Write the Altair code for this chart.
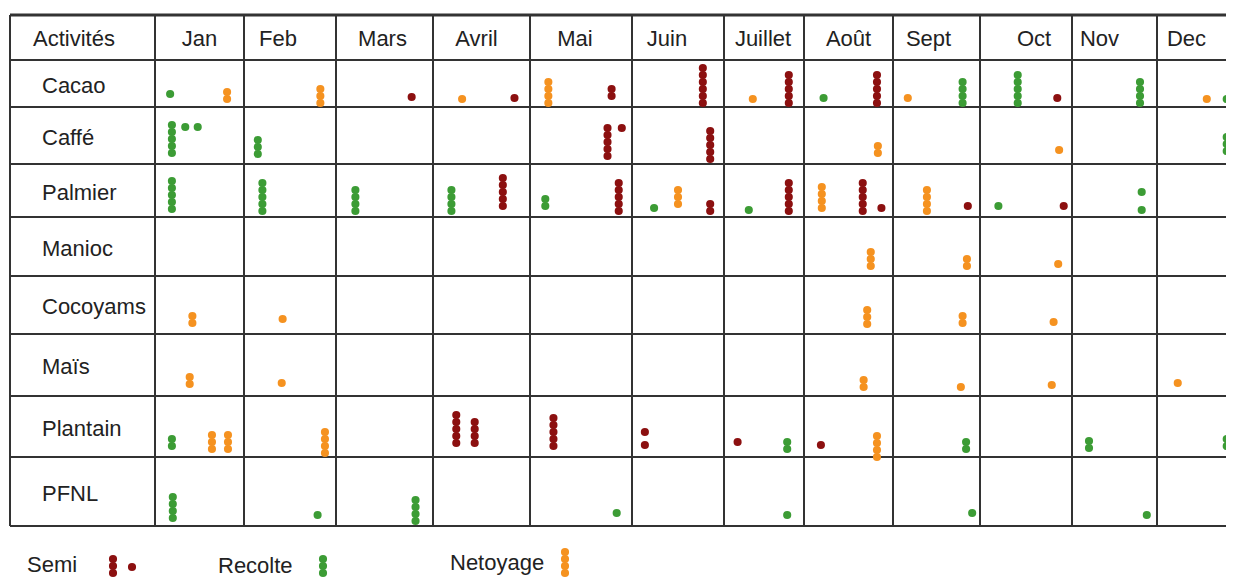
import altair as alt
import pandas as pd

# ---------------- data ----------------
header = "Activités"
months = ["Jan", "Feb", "Mars", "Avril", "Mai", "Juin", "Juillet", "Août",
          "Sept", "Oct", "Nov", "Dec"]
activities = ["Cacao", "Caffé", "Palmier", "Manioc", "Cocoyams", "Maïs",
              "Plantain", "PFNL"]
types = ["Semi", "Recolte", "Netoyage"]

# each stack: (month, position inside the month cell 0-1, number of dots, activity type,
#              lift of the lowest dot above the cell floor)
cacao = [("Jan", 0.17, 1, "Recolte", 13), ("Jan", 0.81, 2, "Netoyage", 8),
         ("Feb", 0.83, 3, "Netoyage", 4), ("Mars", 0.78, 1, "Semi", 10),
         ("Avril", 0.30, 1, "Netoyage", 8), ("Avril", 0.84, 1, "Semi", 9),
         ("Mai", 0.18, 4, "Netoyage", 4), ("Mai", 0.80, 2, "Semi", 11),
         ("Juin", 0.77, 6, "Semi", 4), ("Juillet", 0.36, 1, "Netoyage", 8),
         ("Juillet", 0.81, 5, "Semi", 4), ("Août", 0.22, 1, "Recolte", 9),
         ("Août", 0.82, 5, "Semi", 4), ("Sept", 0.17, 1, "Netoyage", 9),
         ("Sept", 0.80, 4, "Recolte", 4), ("Oct", 0.41, 5, "Recolte", 4),
         ("Oct", 0.84, 1, "Semi", 9), ("Nov", 0.80, 4, "Recolte", 4),
         ("Dec", 0.60, 1, "Netoyage", 8), ("Dec", 0.84, 1, "Recolte", 8)]
caffe = [("Jan", 0.19, 5, "Recolte", 11), ("Jan", 0.34, 1, "Recolte", 37),
         ("Jan", 0.48, 1, "Recolte", 37), ("Feb", 0.15, 3, "Recolte", 10),
         ("Mai", 0.76, 5, "Semi", 8), ("Mai", 0.90, 1, "Semi", 36),
         ("Juin", 0.85, 5, "Semi", 5), ("Août", 0.83, 2, "Netoyage", 11),
         ("Oct", 0.86, 1, "Netoyage", 14), ("Dec", 0.84, 3, "Recolte", 13)]
palmier = [("Jan", 0.19, 5, "Recolte", 8), ("Feb", 0.20, 5, "Recolte", 6),
           ("Mars", 0.20, 4, "Recolte", 6), ("Avril", 0.19, 4, "Recolte", 6),
           ("Avril", 0.72, 5, "Semi", 11), ("Mai", 0.15, 2, "Recolte", 11),
           ("Mai", 0.87, 5, "Semi", 6), ("Juin", 0.24, 1, "Recolte", 9),
           ("Juin", 0.50, 3, "Netoyage", 13), ("Juin", 0.85, 2, "Semi", 6),
           ("Juillet", 0.31, 1, "Recolte", 7), ("Juillet", 0.81, 5, "Semi", 6),
           ("Août", 0.20, 4, "Netoyage", 9), ("Août", 0.66, 5, "Semi", 6),
           ("Août", 0.87, 1, "Semi", 9), ("Sept", 0.39, 4, "Netoyage", 6),
           ("Sept", 0.86, 1, "Semi", 11), ("Oct", 0.20, 1, "Recolte", 11),
           ("Oct", 0.91, 1, "Semi", 11), ("Nov", 0.82, 1, "Recolte", 7),
           ("Nov", 0.82, 1, "Recolte", 25), ("Dec", 0.89, 4, "Recolte", 9)]
manioc = [("Août", 0.75, 3, "Netoyage", 10), ("Sept", 0.85, 2, "Netoyage", 10),
          ("Oct", 0.85, 1, "Netoyage", 12)]
cocoyams = [("Jan", 0.42, 2, "Netoyage", 11), ("Feb", 0.42, 1, "Netoyage", 15),
            ("Août", 0.71, 3, "Netoyage", 10), ("Sept", 0.80, 2, "Netoyage", 11),
            ("Oct", 0.80, 1, "Netoyage", 12)]
mais = [("Jan", 0.39, 2, "Netoyage", 12), ("Feb", 0.41, 1, "Netoyage", 13),
        ("Août", 0.67, 2, "Netoyage", 9), ("Sept", 0.78, 1, "Netoyage", 9),
        ("Oct", 0.78, 1, "Netoyage", 11), ("Dec", 0.25, 1, "Netoyage", 13)]
plantain = [("Jan", 0.19, 2, "Recolte", 11), ("Jan", 0.64, 3, "Netoyage", 8),
            ("Jan", 0.82, 3, "Netoyage", 8), ("Feb", 0.88, 4, "Netoyage", 4),
            ("Avril", 0.24, 5, "Semi", 14), ("Avril", 0.43, 4, "Semi", 14),
            ("Mai", 0.23, 5, "Semi", 11), ("Juin", 0.14, 1, "Semi", 12),
            ("Juin", 0.14, 1, "Semi", 25), ("Juillet", 0.17, 1, "Semi", 15),
            ("Juillet", 0.79, 2, "Recolte", 8), ("Août", 0.19, 1, "Semi", 12),
            ("Août", 0.82, 4, "Netoyage", 0), ("Sept", 0.84, 2, "Recolte", 8),
            ("Nov", 0.20, 2, "Recolte", 9), ("Dec", 0.84, 2, "Recolte", 11)]
pfnl = [("Jan", 0.20, 4, "Recolte", 8), ("Feb", 0.80, 1, "Recolte", 11),
        ("Mars", 0.82, 4, "Recolte", 5), ("Mai", 0.85, 1, "Recolte", 13),
        ("Juillet", 0.79, 1, "Recolte", 11), ("Sept", 0.91, 1, "Recolte", 13),
        ("Nov", 0.88, 1, "Recolte", 11)]
stacks_by_activity = [cacao, caffe, palmier, manioc, cocoyams, mais, plantain, pfnl]

# legend: (label, number of stacked dots, extra single dot)
legend_labels = ["Semi", "Recolte", "Netoyage"]
legend_dots = [3, 3, 4]
legend_extra = [1, 0, 0]

# ---------------- layout ----------------
col_edges = [10, 155, 244, 336, 433, 530, 632, 724, 804, 893, 980, 1072, 1157, 1240]
row_edges = [15, 60, 107, 164, 217, 276, 334, 396, 457, 526]
header_shift = [0, -12, -2, -5, -6, -11, -1, 0, -8, 8, -15, -12]
label_left = 42
dot_step = 7
dot_size = 66
legend_text_x = [27, 218, 450]
legend_text_y = [565, 566, 563]
legend_dot_x = [113, 323, 565]
legend_dot_floor = 573
FONT = "Liberation Sans"
W, H = 1218, 570
right_edge = 8 + W

colors = {"Semi": "#8c1010", "Recolte": "#3c9c35", "Netoyage": "#f59220"}

# ---------------- build tables ----------------
dots = []
for i, stacks in enumerate(stacks_by_activity):
    floor = row_edges[i + 2]
    for (m, pos, n, t, lift) in stacks:
        j = months.index(m)
        left, right = col_edges[j + 1], col_edges[j + 2]
        x = left + pos * (right - left)
        for k in range(n):
            dots.append({"x": x, "y": floor - lift - k * dot_step, "type": t})
for i, lab in enumerate(legend_labels):
    for k in range(legend_dots[i]):
        dots.append({"x": legend_dot_x[i], "y": legend_dot_floor - k * dot_step, "type": lab})
    for k in range(legend_extra[i]):
        dots.append({"x": legend_dot_x[i] + 19, "y": legend_text_y[i] + 2, "type": lab})
dots_df = pd.DataFrame(dots)

vlines = pd.DataFrame({"x": col_edges[:-1], "y": row_edges[0], "y2": row_edges[-1]})
hlines = pd.DataFrame({"y": row_edges, "x": col_edges[0], "x2": right_edge,
                       "w": [3] + [2] * (len(row_edges) - 1)})

texts = [{"x": label_left - 9, "y": (row_edges[0] + row_edges[1]) / 2 + 1,
          "t": header, "a": "left"}]
for j, m in enumerate(months):
    cx = (col_edges[j + 1] + col_edges[j + 2]) / 2 + header_shift[j]
    texts.append({"x": cx, "y": (row_edges[0] + row_edges[1]) / 2 + 1, "t": m, "a": "center"})
for i, a in enumerate(activities):
    texts.append({"x": label_left, "y": (row_edges[i + 1] + row_edges[i + 2]) / 2 + 2,
                  "t": a, "a": "left"})
for i, lab in enumerate(legend_labels):
    texts.append({"x": legend_text_x[i], "y": legend_text_y[i], "t": lab, "a": "left"})
texts_df = pd.DataFrame(texts)

# ---------------- chart ----------------
xs = alt.Scale(domain=[8, 8 + W], nice=False, zero=False)
ys = alt.Scale(domain=[8, 8 + H], nice=False, zero=False, reverse=True)
X = lambda f: alt.X(f, type="quantitative", scale=xs, axis=None)
Y = lambda f: alt.Y(f, type="quantitative", scale=ys, axis=None)

v = alt.Chart(vlines).mark_rule(color="#333333", strokeWidth=2).encode(
    x=X("x"), y=Y("y"), y2="y2")
h = alt.Chart(hlines).mark_rule(color="#333333").encode(
    y=Y("y"), x=X("x"), x2="x2",
    strokeWidth=alt.StrokeWidth("w:Q", scale=None, legend=None))
pts = alt.Chart(dots_df).mark_circle(size=dot_size, opacity=1).encode(
    x=X("x"), y=Y("y"),
    color=alt.Color("type:N", scale=alt.Scale(domain=types,
                    range=[colors[t] for t in types]), legend=None))
txt_left = alt.Chart(texts_df[texts_df.a == "left"]).mark_text(
    align="left", baseline="middle", font=FONT, fontSize=22, color="#222222").encode(
    x=X("x"), y=Y("y"), text="t:N")
txt_center = alt.Chart(texts_df[texts_df.a == "center"]).mark_text(
    align="center", baseline="middle", font=FONT, fontSize=22, color="#222222").encode(
    x=X("x"), y=Y("y"), text="t:N")

chart = alt.layer(v, h, pts, txt_left, txt_center).properties(
    width=W, height=H, padding=0,
    autosize=alt.AutoSizeParams(type="none"),
    background="white",
).configure_view(stroke=None)

chart.save("out.html", embed_options={"renderer": "svg", "actions": False})
